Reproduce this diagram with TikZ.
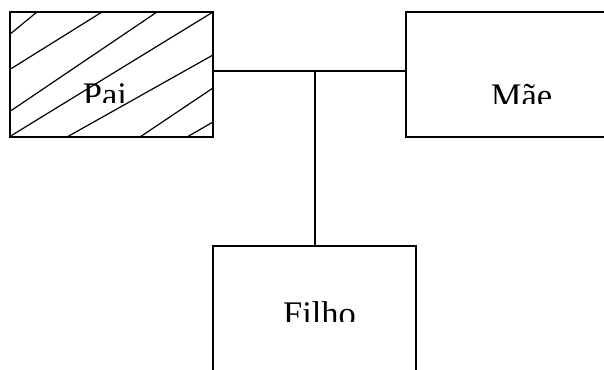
\documentclass[tikz,border=0pt]{standalone}
\usepackage{fontspec}
\setmainfont{Liberation Serif}
\begin{document}
\begin{tikzpicture}[x=1pt,y=-1pt,
  box/.style={draw, line width=1.6pt, minimum width=203pt, minimum height=125pt,
              inner sep=0pt, outer sep=0pt},
  widebox/.style={box, minimum width=260pt},
  link/.style={line width=1.5pt},
  hatch/.style={line width=1.2pt},
  lbl/.style={inner sep=0pt, anchor=base, font=\fontspec{Liberation Serif}\fontsize{34.5}{40}\selectfont}]
  % page frame
  \useasboundingbox (0,0) rectangle (604,369);
  \clip (0,0) rectangle (604,369);
  \fill[white] (0,0) rectangle (604,369);

  % family boxes
  \node[box] (pai)     at (111.5,74.5) {};
  \node[widebox] (mae) at (536,74.5) {};
  \node[box] (filho)   at (314.5,308.5) {};

  % diagonal hatching of the father's box
  \begin{scope}
    \clip (pai.south west) rectangle (pai.north east);
    \draw[hatch] (9,35) -- (37,12);
    \draw[hatch] (9,70) -- (102,12);
    \draw[hatch] (9,112) -- (157,12);
    \draw[hatch] (9,137) -- (213,12);
    \draw[hatch] (67,137) -- (213,55);
    \draw[hatch] (140,137) -- (213,88);
    \draw[hatch] (187,137) -- (213,122);
  \end{scope}
  \node[box] at (pai) {};

  % couple line and descent line
  \coordinate (j) at (315,71);
  \draw[link] (pai.east |- j) -- (mae.west |- j);
  \draw[link] (j) -- (j |- filho.north);

  % labels, cut off just above the baseline
  \begin{scope}
    \clip (0,0) rectangle (604,102.5);
    \node[lbl] (tpai) at (105,106) {Pai};
  \end{scope}
  \begin{scope}
    \clip (0,0) rectangle (604,103);
    \node[lbl] (tmae) at (521.5,107) {Mãe};
  \end{scope}
  \begin{scope}
    \clip (0,200) rectangle (604,321);
    \node[lbl] (tfilho) at (319.5,325) {Filho};
  \end{scope}
\end{tikzpicture}
\end{document}
